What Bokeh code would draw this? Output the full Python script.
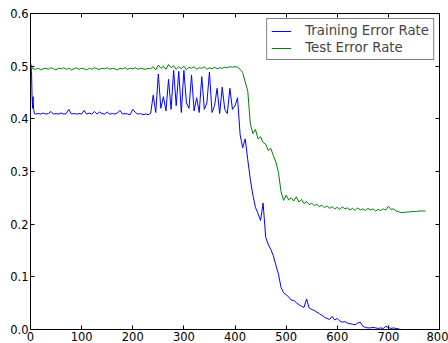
from bokeh.plotting import figure
from bokeh.models import (Range1d, LinearAxis, FixedTicker, NumeralTickFormatter, Legend,
                          LegendItem, CustomLabelingPolicy)
from bokeh.embed import file_html
from bokeh.resources import INLINE

# ---- data ----
epochs_early = [0, 1, 2, 3, 4, 5, 6, 8]
epochs_main = list(range(10, 775, 5)) + [773]
epochs = epochs_early + epochs_main

train_early = [0.488, 0.497, 0.490, 0.445, 0.420, 0.442, 0.418, 0.410]
test_early = [0.506, 0.503, 0.499, 0.497, 0.495, 0.496, 0.494, 0.495]

train_main = [
    0.409, 0.410, 0.409, 0.411, 0.409, 0.410, 0.414, 0.409, 0.410, 0.409,
    0.411, 0.409, 0.410, 0.418, 0.409, 0.410, 0.409, 0.410, 0.409, 0.416,
    0.409, 0.411, 0.409, 0.414, 0.409, 0.413, 0.410, 0.409, 0.413, 0.409,
    0.410, 0.409, 0.411, 0.416, 0.409, 0.410, 0.409, 0.408, 0.418, 0.412,
    0.409, 0.410, 0.408, 0.409, 0.408, 0.410, 0.445, 0.412, 0.485, 0.420,
    0.442, 0.415, 0.475, 0.418, 0.492, 0.425, 0.490, 0.412, 0.492, 0.430,
    0.420, 0.483, 0.415, 0.440, 0.412, 0.480, 0.418, 0.430, 0.489, 0.412,
    0.425, 0.458, 0.410, 0.460, 0.418, 0.410, 0.458, 0.418, 0.425, 0.440,
    0.370, 0.345, 0.362, 0.322, 0.285, 0.255, 0.232, 0.220, 0.207, 0.240,
    0.175, 0.162, 0.152, 0.140, 0.122, 0.105, 0.080, 0.070, 0.066, 0.062,
    0.056, 0.055, 0.051, 0.047, 0.044, 0.042, 0.058, 0.041, 0.038, 0.036,
    0.033, 0.030, 0.027, 0.023, 0.021, 0.019, 0.025, 0.018, 0.021, 0.016,
    0.014, 0.015, 0.012, 0.011, 0.010, 0.009, 0.012, 0.014, 0.006, 0.004,
    0.003, 0.003, 0.004, 0.003, 0.002, 0.003, 0.002, 0.006, 0.004, 0.002,
    0.003, 0.002, 0.001, 0.000, 0.000, 0.000, 0.000, 0.000, 0.000, 0.000,
    0.000, 0.000, 0.000,
    0.000,
]

test_main = [
    0.494, 0.496, 0.493, 0.495, 0.496, 0.494, 0.497, 0.495, 0.493, 0.496,
    0.495, 0.497, 0.494, 0.496, 0.493, 0.495, 0.497, 0.494, 0.496, 0.495,
    0.493, 0.496, 0.494, 0.497, 0.495, 0.494, 0.496, 0.495, 0.497, 0.494,
    0.496, 0.495, 0.493, 0.496, 0.495, 0.497, 0.494, 0.496, 0.495, 0.497,
    0.494, 0.496, 0.495, 0.494, 0.496, 0.495, 0.499, 0.493, 0.502, 0.496,
    0.500, 0.494, 0.503, 0.497, 0.501, 0.494, 0.499, 0.495, 0.500, 0.493,
    0.498, 0.496, 0.499, 0.494, 0.497, 0.496, 0.499, 0.494, 0.497, 0.495,
    0.498, 0.495, 0.497, 0.496, 0.498, 0.497, 0.499, 0.498, 0.499, 0.498,
    0.494, 0.488, 0.470, 0.452, 0.390, 0.372, 0.380, 0.362, 0.366, 0.355,
    0.352, 0.340, 0.344, 0.330, 0.318, 0.298, 0.262, 0.245, 0.255, 0.246,
    0.250, 0.244, 0.252, 0.242, 0.247, 0.239, 0.243, 0.237, 0.240, 0.235,
    0.238, 0.233, 0.236, 0.231, 0.235, 0.230, 0.233, 0.229, 0.232, 0.228,
    0.233, 0.229, 0.231, 0.227, 0.230, 0.226, 0.231, 0.227, 0.229, 0.226,
    0.230, 0.227, 0.229, 0.225, 0.228, 0.226, 0.229, 0.227, 0.234, 0.228,
    0.229, 0.225, 0.224, 0.222, 0.222, 0.223, 0.223, 0.224, 0.224, 0.224,
    0.225, 0.225, 0.225,
    0.225,
]

train_error = train_early + train_main
test_error = test_early + test_main

x_ticks = [0, 100, 200, 300, 400, 500, 600, 700, 800]
y_ticks = [0.0, 0.1, 0.2, 0.3, 0.4, 0.5, 0.6]
series_labels = ["Training Error Rate", "Test Error Rate"]

assert len(train_error) == len(epochs) == len(test_error)

FONT = "DejaVu Sans"

p = figure(width=448, height=343, output_backend="svg", toolbar_location=None,
           x_range=Range1d(0, 800), y_range=Range1d(0, 0.6),
           x_axis_type=None, y_axis_type=None)
p.min_border = 0
p.min_border_left = 30
p.min_border_right = 9
p.min_border_top = 13
p.min_border_bottom = 14
p.grid.visible = False
p.outline_line_color = "black"
p.outline_line_width = 1
p.background_fill_color = "white"
p.border_fill_color = "white"

def styled_axis(ticks, show_labels, fmt=None):
    ax = LinearAxis(ticker=FixedTicker(ticks=ticks))
    ax.major_tick_in = 4
    ax.major_tick_out = 0
    ax.minor_tick_line_color = None
    ax.axis_line_color = "black"
    ax.major_tick_line_color = "black"
    if fmt is not None:
        ax.formatter = fmt
    if show_labels:
        ax.major_label_text_font = FONT
        ax.major_label_text_font_size = "11.5px"
        ax.major_label_text_color = "black"
        ax.major_label_standoff = 2
    else:
        ax.major_label_policy = CustomLabelingPolicy(
            code="for (const i of Array.from(indices)) { indices.unset(i) }; return indices")
        ax.major_label_text_font_size = "1px"
        ax.major_label_standoff = 0
    return ax

p.add_layout(styled_axis(x_ticks, True, NumeralTickFormatter(format="0")), "below")
p.add_layout(styled_axis(y_ticks, True, NumeralTickFormatter(format="0.0")), "left")
p.add_layout(styled_axis(x_ticks, False), "above")
p.add_layout(styled_axis(y_ticks, False), "right")

r_train = p.line(epochs, train_error, line_color="#0000ff", line_width=1)
r_test = p.line(epochs, test_error, line_color="#008000", line_width=1)

legend = Legend(items=[LegendItem(label=series_labels[0], renderers=[r_train]),
                       LegendItem(label=series_labels[1], renderers=[r_test])],
                location="top_right")
legend.margin = 5
legend.padding = 4
legend.spacing = 2
legend.glyph_width = 20
legend.glyph_height = 14
legend.label_height = 14
legend.label_standoff = 14
legend.label_text_font = FONT
legend.label_text_font_size = "13.3px"
legend.border_line_color = "black"
legend.border_line_width = 1
legend.background_fill_color = "white"
legend.background_fill_alpha = 1
p.add_layout(legend, "center")

open("out.html", "w").write(file_html(p, INLINE))
